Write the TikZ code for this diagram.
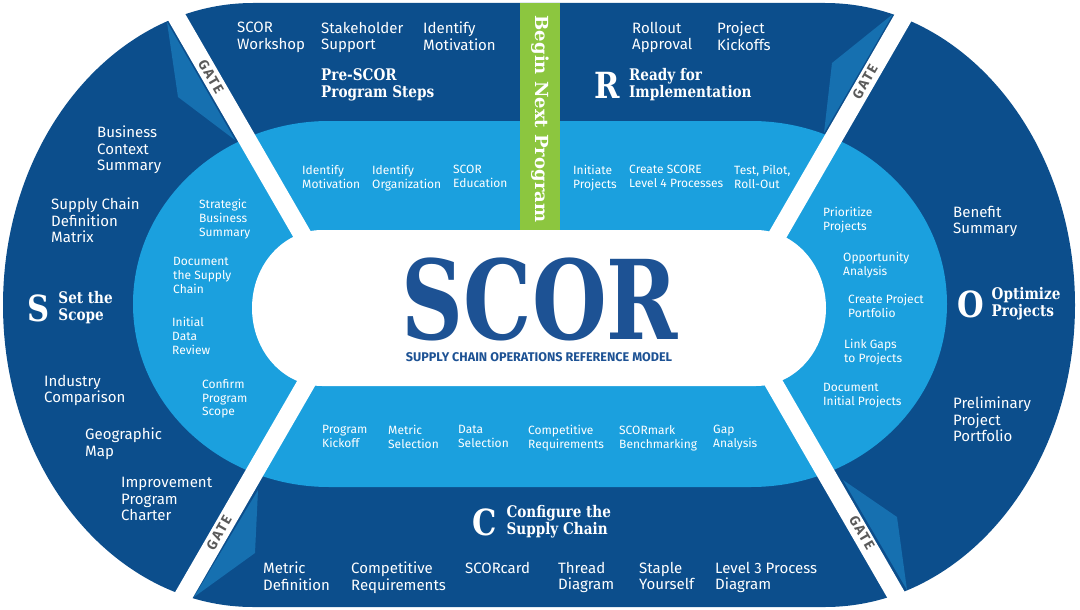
\documentclass[tikz,border=0pt]{standalone}
\usepackage{fontspec}
\setmainfont{Fira Sans}
\newfontfamily\slabfont[FakeStretch=0.85]{DejaVu Serif}
\newfontfamily\titlefont[FakeStretch=0.78]{DejaVu Serif}
\newfontfamily\bandfont{DejaVu Serif}
\usetikzlibrary{positioning}

\definecolor{scordark}{HTML}{0C4E8C}
\definecolor{scorlight}{HTML}{1BA0DE}
\definecolor{scorflag}{HTML}{1670B0}
\definecolor{scorgreen}{HTML}{8CC63F}
\definecolor{scortitle}{HTML}{1D5294}
\definecolor{gategray}{HTML}{5A5A5A}

\begin{document}
\begin{tikzpicture}[
    x=1pt, y=-1pt,
    dark text/.style={text=white, align=left, anchor=north west, inner sep=0pt,
        font=\fontsize{15}{16.5}\selectfont},
    light text/.style={text=white, align=left, anchor=north west, inner sep=0pt,
        font=\fontsize{12}{13.8}\selectfont},
    heading/.style={text=white, align=left, inner sep=0pt,
        font=\slabfont\bfseries\fontsize{16}{17}\selectfont},
    letter/.style={text=white, inner sep=0pt,
        font=\slabfont\bfseries\fontsize{36}{36}\selectfont},
    gate/.style={draw=white, line width=18pt},
    gate label/.style={text=gategray, inner sep=0pt,
        font=\bfseries\fontsize{14}{14}\selectfont\addfontfeature{LetterSpace=12}}
]
\useasboundingbox (0,0) rectangle (1080,610);

% rings
\fill[scordark] (253,3) -- (825,3) arc[start angle=-90, end angle=90, x radius=250, y radius=302]
    -- (253,607) arc[start angle=90, end angle=270, x radius=250, y radius=302] -- cycle;
\fill[scorlight] (329,121) -- (751,121) arc[start angle=-90, end angle=90, x radius=196, y radius=183]
    -- (329,487) arc[start angle=90, end angle=270, x radius=196, y radius=183] -- cycle;
\fill[white] (322,230) -- (756,230) arc[start angle=-90, end angle=90, x radius=70, y radius=78]
    -- (322,386) arc[start angle=90, end angle=270, x radius=70, y radius=78] -- cycle;

% flags next to the gates
\fill[scorflag] (167,22) -- (178,97) -- (235,140) -- cycle;
\fill[scorflag] (893,14) -- (832,63) -- (824,133) -- cycle;
\fill[scorflag] (258,490) -- (255,553) -- (194,597) -- cycle;
\fill[scorflag] (843,480) -- (897,517) -- (907,590) -- cycle;

\fill[scorgreen] (520,3) rectangle (560,230);

% gates
\coordinate (gUL) at (310,248);
\coordinate (gUR) at (770,248);
\coordinate (gLL) at (315,368);
\coordinate (gLR) at (765,368);
\draw[gate] (gUL) -- ++(-175,-303);
\draw[gate] (gUR) -- ++(175,-303);
\draw[gate] (gLL) -- ++(-175,303);
\draw[gate] (gLR) -- ++(175,303);
\node[gate label, rotate=-60] (gateUL) at (211,77) {GATE};
\node[gate label, rotate=60] (gateUR) at (865,82) {GATE};
\node[gate label, rotate=60] (gateLL) at (219,533) {GATE};
\node[gate label, rotate=-60] (gateLR) at (862,533) {GATE};

% centre
\node[anchor=base, inner sep=0pt, text=scortitle,
    font=\titlefont\bfseries\fontsize{110}{110}\selectfont] (scor) at (540,339) {SCOR};
\node[anchor=base, inner sep=0pt, text=scortitle,
    font=\bfseries\fontsize{12.6}{12.6}\selectfont] (model) at (539,361) {SUPPLY CHAIN OPERATIONS REFERENCE MODEL};
\node[rotate=-90, inner sep=0pt, text=white,
    font=\bandfont\bfseries\fontsize{18}{18}\selectfont] (next) at (540,119) {Begin Next Program};

% Pre-SCOR
\node[dark text] (workshop) at (237,22) {SCOR\\Workshop};
\node[dark text] (stakeholder) at (321,22) {Stakeholder\\Support};
\node[dark text] (motivation) at (423,22) {Identify\\Motivation};
\node[heading, anchor=north west] (preH) at (321,68) {Pre-SCOR\\Program Steps};
\node[light text] (imotivation) at (302,165) {Identify\\Motivation};
\node[light text] (iorganization) at (372,165) {Identify\\Organization};
\node[light text] (education) at (453,165) {SCOR\\Education};

% R
\node[dark text] (rollout) at (632,22) {Rollout\\Approval};
\node[dark text] (kickoffs) at (717,22) {Project\\Kickoffs};
\node[letter] (R) at (607,85) {R};
\node[heading, right=9pt of R] (readyH) {Ready for\\Implementation};
\node[light text] (initiate) at (573,165) {Initiate\\Projects};
\node[light text] (level4) at (629,165) {Create SCORE\\Level 4 Processes};
\node[light text] (pilot) at (734,165) {Test, Pilot,\\Roll-Out};

% S
\node[dark text] (context) at (97,126) {Business\\Context\\Summary};
\node[dark text] (matrix) at (51,198) {Supply Chain\\Definition\\Matrix};
\node[letter] (S) at (39,308) {S};
\node[heading, right=8pt of S] (scopeH) {Set the\\Scope};
\node[dark text] (industry) at (44,375) {Industry\\Comparison};
\node[dark text] (geo) at (85,428) {Geographic\\Map};
\node[dark text] (charter) at (121,477) {Improvement\\Program\\Charter};
\node[light text] (strategic) at (199,199) {Strategic\\Business\\Summary};
\node[light text] (document) at (173,257) {Document\\the Supply\\Chain};
\node[light text] (review) at (172,317) {Initial\\Data\\Review};
\node[light text] (confirm) at (202,379) {Confirm\\Program\\Scope};

% O
\node[dark text] (benefit) at (953,206) {Benefit\\Summary};
\node[letter] (O) at (971,304) {O};
\node[heading, right=7pt of O] (optimizeH) {Optimize\\Projects};
\node[dark text] (portfolio) at (953,397) {Preliminary\\Project\\Portfolio};
\node[light text] (prioritize) at (823,207) {Prioritize\\Projects};
\node[light text] (opportunity) at (843,252) {Opportunity\\Analysis};
\node[light text] (cportfolio) at (848,294) {Create Project\\Portfolio};
\node[light text] (gaps) at (844,339) {Link Gaps\\to Projects};
\node[light text] (initial) at (823,383) {Document\\Initial Projects};

% C
\node[light text] (pkickoff) at (322,425) {Program\\Kickoff};
\node[light text] (mselection) at (388,425) {Metric\\Selection};
\node[light text] (dselection) at (458,425) {Data\\Selection};
\node[light text] (crequirements) at (528,425) {Competitive\\Requirements};
\node[light text] (scormark) at (619,425) {SCORmark\\Benchmarking};
\node[light text] (gap) at (713,425) {Gap\\Analysis};
\node[letter] (C) at (485,522) {C};
\node[heading, right=9pt of C] (configureH) {Configure the\\Supply Chain};
\node[dark text] (definition) at (263,562) {Metric\\Definition};
\node[dark text] (competitive) at (351,562) {Competitive\\Requirements};
\node[dark text] (scorcard) at (465,562) {SCORcard};
\node[dark text] (thread) at (558,562) {Thread\\Diagram};
\node[dark text] (staple) at (639,562) {Staple\\Yourself};
\node[dark text] (level3) at (715,562) {Level 3 Process\\Diagram};

\end{tikzpicture}
\end{document}
